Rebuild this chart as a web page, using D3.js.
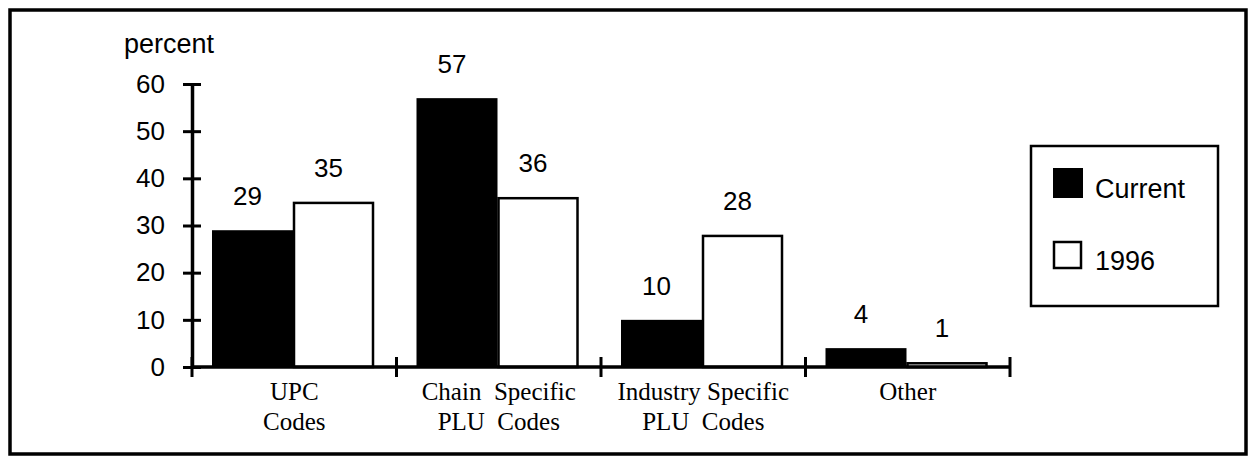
<!DOCTYPE html>
<html>
<head>
<meta charset="utf-8">
<script src="https://cdn.jsdelivr.net/npm/d3@7"></script>
<style>
  body { margin: 0; background: #fff; }
  svg { display: block; }
  text { font-family: "Liberation Sans", Arial, sans-serif; }
  .cat { font-family: "Liberation Serif", "Times New Roman", serif; white-space: pre; }
</style>
</head>
<body>
<svg width="1250" height="457"></svg>
<script>
// data
var categories = ["UPC Codes", "Chain Specific PLU Codes", "Industry Specific PLU Codes", "Other"];
var categoryLines = [["UPC", "Codes"], ["Chain  Specific", "PLU  Codes"], ["Industry Specific", "PLU  Codes"], ["Other"]];
var series = ["Current", "1996"];
var currentValues = [29, 57, 10, 4];
var values1996 = [35, 36, 28, 1];
var yTicks = [0, 10, 20, 30, 40, 50, 60];

function main() {
    var svg = d3.select("svg");

    // outer frame
    svg.append("rect")
        .attr("x", 10).attr("y", 10)
        .attr("width", 1236).attr("height", 444)
        .attr("fill", "none").attr("stroke", "#000").attr("stroke-width", 3.5);

    var xScale = d3.scaleBand().domain(categories).range([192, 1010]),
        xInner = d3.scaleBand().domain(series).range([20, 182]),
        yScale = d3.scaleLinear().domain([0, 60]).range([367, 84]);

    var data = categories.map(function(c, i) {
        return { cat: c, lines: categoryLines[i], vals: [
            { s: "Current", v: currentValues[i] },
            { s: "1996", v: values1996[i] }
        ]};
    });

    // y axis
    var yAxis = svg.append("g").attr("transform", "translate(192,0)")
        .call(d3.axisLeft(yScale).tickValues(yTicks).tickSizeInner(9).tickSizeOuter(0).tickPadding(18));
    yAxis.select(".domain").attr("stroke-width", 3.5);
    yAxis.selectAll(".tick line").attr("x1", 9).attr("stroke-width", 3);
    yAxis.selectAll(".tick text")
        .attr("font-size", "26px")
        .attr("font-family", "Liberation Sans, Arial, sans-serif");

    svg.append("text")
        .attr("x", 124).attr("y", 53)
        .attr("font-size", "27px")
        .text("percent");

    // bars
    var groups = svg.selectAll(".grp")
        .data(data)
        .enter().append("g")
        .attr("class", "grp")
        .attr("transform", function(d) { return "translate(" + xScale(d.cat) + ",0)"; });

    groups.selectAll(".bar")
        .data(function(d) { return d.vals; })
        .enter().append("rect")
        .attr("class", "bar")
        .attr("x", function(d) { return xInner(d.s) + (d.s === "1996" ? 1 : 0); })
        .attr("y", function(d) { return yScale(d.v) + (d.s === "1996" ? 1 : 0); })
        .attr("width", function(d) { return xInner.bandwidth() - (d.s === "1996" ? 2 : 0); })
        .attr("height", function(d) { return yScale(0) - yScale(d.v) - (d.s === "1996" ? 1 : 0); })
        .attr("fill", function(d) { return d.s === "Current" ? "#000" : "#fff"; })
        .attr("stroke", function(d) { return d.s === "Current" ? "none" : "#000"; })
        .attr("stroke-width", 2.5);

    groups.selectAll(".val")
        .data(function(d) { return d.vals; })
        .enter().append("text")
        .attr("class", "val")
        .attr("x", function(d) { return xInner(d.s) + xInner.bandwidth() / 2 - 5; })
        .attr("y", function(d) { return yScale(d.v) - 25; })
        .attr("text-anchor", "middle")
        .attr("font-size", "26px")
        .text(function(d) { return d.v; });

    // x axis line and ticks
    svg.append("line")
        .attr("x1", xScale.range()[0]).attr("x2", xScale.range()[1])
        .attr("y1", yScale(0)).attr("y2", yScale(0))
        .attr("stroke", "#000").attr("stroke-width", 3.5);

    var bounds = d3.range(categories.length + 1).map(function(i) {
        return xScale.range()[0] + i * xScale.step();
    });
    svg.selectAll(".xtick")
        .data(bounds)
        .enter().append("line")
        .attr("class", "xtick")
        .attr("x1", function(d) { return d; }).attr("x2", function(d) { return d; })
        .attr("y1", yScale(0) - 10).attr("y2", yScale(0) + 10)
        .attr("stroke", "#000").attr("stroke-width", 3);

    // category labels
    groups.each(function(d) {
        var t = d3.select(this).append("text")
            .attr("class", "cat")
            .attr("text-anchor", "middle")
            .attr("font-size", "25px");
        d.lines.forEach(function(line, j) {
            t.append("tspan")
                .attr("x", xScale.bandwidth() / 2)
                .attr("y", yScale(0) + 33 + j * 30)
                .text(line);
        });
    });

    // legend
    var legend = svg.append("g");
    legend.append("rect")
        .attr("x", 1031).attr("y", 146).attr("width", 187).attr("height", 160)
        .attr("fill", "#fff").attr("stroke", "#000").attr("stroke-width", 2.5);
    legend.selectAll(".sw")
        .data(series)
        .enter().append("rect")
        .attr("class", "sw")
        .attr("x", function(d, i) { return i === 0 ? 1053 : 1054; })
        .attr("y", function(d, i) { return i === 0 ? 168 : 242; })
        .attr("width", function(d, i) { return i === 0 ? 30 : 27; })
        .attr("height", function(d, i) { return i === 0 ? 30 : 26; })
        .attr("fill", function(d, i) { return i === 0 ? "#000" : "#fff"; })
        .attr("stroke", "#000").attr("stroke-width", function(d, i) { return i === 0 ? 0 : 2.5; });
    legend.selectAll(".lt")
        .data(series)
        .enter().append("text")
        .attr("class", "lt")
        .attr("x", 1095)
        .attr("y", function(d, i) { return i === 0 ? 198 : 270; })
        .attr("font-size", "27px")
        .text(function(d) { return d; });
}

main();
</script>
</body>
</html>
